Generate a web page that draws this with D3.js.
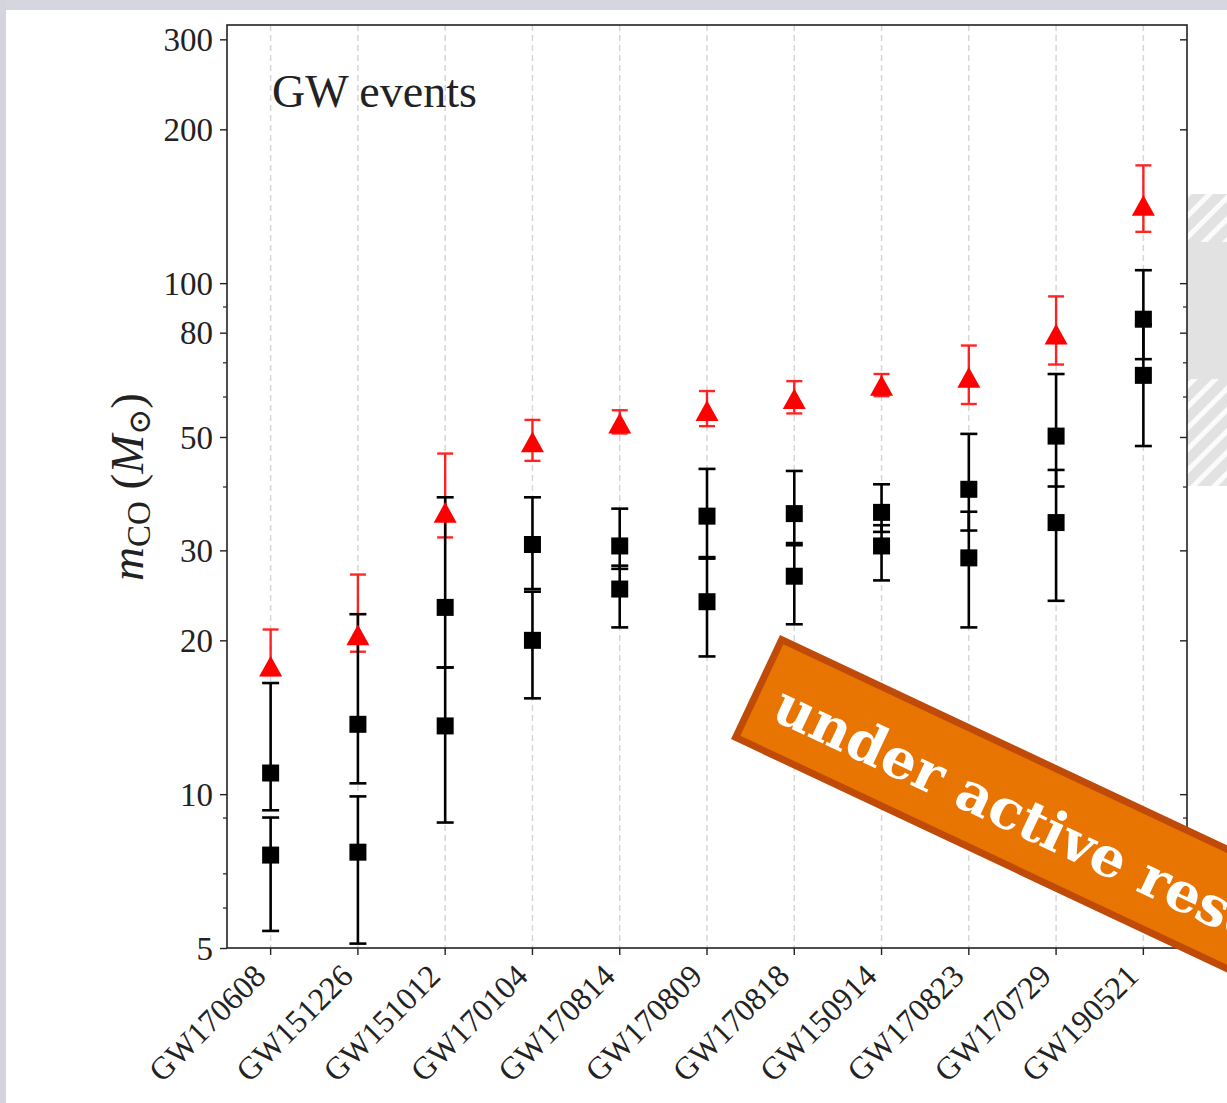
<!DOCTYPE html>
<html>
<head>
<meta charset="utf-8">
<script src="https://cdn.jsdelivr.net/npm/d3@7"></script>
<style>
  html, body { margin: 0; padding: 0; background: #fff; overflow: hidden; }
  svg { display: block; }
</style>
</head>
<body>
<svg id="chart" width="1227" height="1103"></svg>
<script>
// Binary black hole events, ordered by remnant mass
const events = ["GW170608", "GW151226", "GW151012", "GW170104", "GW170814", "GW170809",
                "GW170818", "GW150914", "GW170823", "GW170729", "GW190521"];

// Primary component mass (median, upper error, lower error), in solar masses
const m1   = [11.0, 13.7, 23.2, 30.8, 30.6, 35.0, 35.4, 35.6, 39.5, 50.2, 85];
const m1Up = [5.5, 8.8, 14.9, 7.3, 5.6, 8.3, 7.5, 4.8, 11.2, 16.2, 21];
const m1Lo = [1.7, 3.2, 5.5, 5.6, 3.0, 5.9, 4.7, 3.0, 6.7, 10.2, 14];

// Secondary component mass
const m2   = [7.6, 7.7, 13.6, 20.0, 25.2, 23.8, 26.7, 30.6, 29.0, 34.0, 66];
const m2Up = [1.4, 2.2, 4.1, 4.9, 2.8, 5.1, 4.3, 3.0, 6.7, 9.1, 17];
const m2Lo = [2.2, 2.6, 4.8, 4.6, 4.0, 5.2, 5.2, 4.4, 7.8, 10.1, 18];

// Final (remnant) mass
const mf   = [17.8, 20.5, 35.6, 48.9, 53.2, 56.3, 59.4, 63.1, 65.4, 79.5, 142];
const mfUp = [3.2, 6.4, 10.8, 5.1, 3.2, 5.2, 4.9, 3.3, 10.1, 14.7, 28];
const mfLo = [0.7, 1.5, 3.8, 4.0, 2.4, 3.8, 3.8, 3.0, 7.4, 10.2, 16];

// Axis ticks
const majorTicks = [5, 10, 20, 30, 50, 80, 100, 200, 300];
const minorTicks = [6, 7, 9, 40, 60, 70, 90];
const yDomain = [5, 320];

const svg = d3.select("#chart");
const W = 1227, H = 1103;
const plot = { left: 227, right: 1187, top: 25, bottom: 948 };
const serif = "'Liberation Serif', 'DejaVu Serif', serif";

// page backdrop: a light frame along the top and left edges
svg.append("rect").attr("x", 0).attr("y", 0).attr("width", W).attr("height", H).attr("fill", "#fff");
svg.append("rect").attr("x", 0).attr("y", 0).attr("width", W).attr("height", 10).attr("fill", "#d5d6df");
svg.append("rect").attr("x", 0).attr("y", 0).attr("width", 6).attr("height", H).attr("fill", "#d3d4dd");

// hatched panel peeking in on the right
const defs = svg.append("defs");
const pat = defs.append("pattern")
  .attr("id", "hatch").attr("patternUnits", "userSpaceOnUse")
  .attr("width", 15).attr("height", 15)
  .attr("patternTransform", "rotate(45)");
pat.append("rect").attr("width", 15).attr("height", 15).attr("fill", "#e2e2e2");
pat.append("rect").attr("x", 0).attr("width", 5).attr("height", 15).attr("fill", "#fbfbfb");

svg.append("rect").attr("x", plot.right).attr("y", 194).attr("width", W - plot.right).attr("height", 48).attr("fill", "url(#hatch)");
svg.append("rect").attr("x", plot.right).attr("y", 242).attr("width", W - plot.right).attr("height", 137).attr("fill", "#e2e2e2");
svg.append("rect").attr("x", plot.right).attr("y", 379).attr("width", W - plot.right).attr("height", 107).attr("fill", "url(#hatch)");

// scales
const x = d3.scaleBand().domain(events).range([plot.left, plot.right]);
const cx = d => x(d) + x.bandwidth() / 2;
const y = d3.scaleLog().domain(yDomain).range([plot.bottom, plot.top]);

// vertical dashed guides
svg.append("g").selectAll("line").data(events).join("line")
  .attr("x1", cx).attr("x2", cx)
  .attr("y1", plot.top).attr("y2", plot.bottom)
  .attr("stroke", "#d6d6d6").attr("stroke-width", 1.5)
  .attr("stroke-dasharray", "6,4");

// error bar helper
function errorBars(g, vals, up, lo, color, width, capW, opacity) {
  const rows = events.map((e, i) => ({ e, v: vals[i], hi: vals[i] + up[i], lo: vals[i] - lo[i] }));
  const gg = g.append("g").attr("stroke", color).attr("stroke-width", width).attr("opacity", opacity);
  gg.selectAll(".bar").data(rows).join("line")
    .attr("x1", d => cx(d.e)).attr("x2", d => cx(d.e))
    .attr("y1", d => y(d.hi)).attr("y2", d => y(d.lo));
  gg.selectAll(".capHi").data(rows).join("line")
    .attr("x1", d => cx(d.e) - capW / 2).attr("x2", d => cx(d.e) + capW / 2)
    .attr("y1", d => y(d.hi)).attr("y2", d => y(d.hi));
  gg.selectAll(".capLo").data(rows).join("line")
    .attr("x1", d => cx(d.e) - capW / 2).attr("x2", d => cx(d.e) + capW / 2)
    .attr("y1", d => y(d.lo)).attr("y2", d => y(d.lo));
}

const marks = svg.append("g");
errorBars(marks, mf, mfUp, mfLo, "#ff0000", 2.4, 16, 0.85);
errorBars(marks, m1, m1Up, m1Lo, "#000", 2.6, 17, 1);
errorBars(marks, m2, m2Up, m2Lo, "#000", 2.6, 17, 1);

// remnant mass: red triangles
const tri = 11.5;
marks.append("g").selectAll("path").data(events.map((e, i) => ({ e, v: mf[i] }))).join("path")
  .attr("transform", d => `translate(${cx(d.e)},${y(d.v)})`)
  .attr("d", `M0,${-tri * 0.9}L${tri},${tri * 0.9}L${-tri},${tri * 0.9}Z`)
  .attr("fill", "#ff0000");

// component masses: black squares
const sq = 17;
const comps = events.flatMap((e, i) => [{ e, v: m1[i] }, { e, v: m2[i] }]);
marks.append("g").selectAll("rect").data(comps).join("rect")
  .attr("x", d => cx(d.e) - sq / 2).attr("y", d => y(d.v) - sq / 2)
  .attr("width", sq).attr("height", sq).attr("fill", "#000");

// axes
const fmt = d3.format("d");
const yAxis = svg.append("g").attr("transform", `translate(${plot.left},0)`)
  .call(d3.axisLeft(y).tickValues(majorTicks).tickFormat(fmt).tickSize(7).tickPadding(7));
yAxis.select(".domain").remove();
yAxis.selectAll("text").attr("font-family", serif).attr("font-size", 33).attr("fill", "#222").attr("dy", "0.34em");
yAxis.selectAll("line").attr("stroke", "#222").attr("stroke-width", 1.4);

const yMinor = svg.append("g").attr("transform", `translate(${plot.left},0)`)
  .call(d3.axisLeft(y).tickValues(minorTicks).tickFormat("").tickSize(4));
yMinor.select(".domain").remove();
yMinor.selectAll("line").attr("stroke", "#222").attr("stroke-width", 1.2);

// right-hand ticks, pointing into the plot
const yRight = svg.append("g").attr("transform", `translate(${plot.right},0)`)
  .call(d3.axisLeft(y).tickValues(majorTicks).tickFormat("").tickSize(7));
yRight.select(".domain").remove();
yRight.selectAll("line").attr("stroke", "#222").attr("stroke-width", 1.4);
const yRightMinor = svg.append("g").attr("transform", `translate(${plot.right},0)`)
  .call(d3.axisLeft(y).tickValues(minorTicks).tickFormat("").tickSize(4));
yRightMinor.select(".domain").remove();
yRightMinor.selectAll("line").attr("stroke", "#222").attr("stroke-width", 1.2);

const xAxis = svg.append("g").attr("transform", `translate(0,${plot.bottom})`)
  .call(d3.axisBottom(x).tickSize(7).tickFormat(""));
xAxis.select(".domain").remove();
xAxis.selectAll("line").attr("stroke", "#222").attr("stroke-width", 1.4);

svg.append("g").selectAll("text").data(events).join("text")
  .attr("transform", d => `translate(${cx(d) - 3},${plot.bottom + 30}) rotate(-45)`)
  .attr("text-anchor", "end")
  .attr("font-family", serif).attr("font-size", 32).attr("fill", "#222")
  .text(d => d);

// frame
svg.append("rect")
  .attr("x", plot.left).attr("y", plot.top)
  .attr("width", plot.right - plot.left).attr("height", plot.bottom - plot.top)
  .attr("fill", "none").attr("stroke", "#222").attr("stroke-width", 1.6);

// in-plot caption
svg.append("text").attr("x", 272).attr("y", 107)
  .attr("font-family", serif).attr("font-size", 46).attr("fill", "#222")
  .text("GW events");

// y-axis title: m_CO (M_sun)
const yl = svg.append("text")
  .attr("transform", `translate(143,487) rotate(-90)`)
  .attr("text-anchor", "middle")
  .attr("font-family", serif).attr("font-size", 47).attr("fill", "#222");
yl.append("tspan").attr("font-style", "italic").text("m");
yl.append("tspan").attr("font-size", 33).attr("dy", 7).text("CO");
yl.append("tspan").attr("dy", -7).text("\u00a0(");
yl.append("tspan").attr("font-style", "italic").text("M");
yl.append("tspan").attr("font-size", 31).attr("dy", 7).attr("font-family", "'DejaVu Serif', serif").text("\u2299");
yl.append("tspan").attr("dy", -7).text(")");

// status ribbon
const ribbon = svg.append("g").attr("transform", "translate(780,635) rotate(25.2)");
ribbon.append("rect")
  .attr("x", 3.5).attr("y", 3.5).attr("width", 800).attr("height", 108)
  .attr("fill", "#e87502").attr("stroke", "#c04a08").attr("stroke-width", 7);
ribbon.append("text")
  .attr("x", 26).attr("y", 80)
  .attr("font-family", "'DejaVu Serif', serif").attr("font-weight", "bold")
  .attr("font-size", 55).attr("fill", "#fff")
  .text("under active research");
</script>
</body>
</html>
